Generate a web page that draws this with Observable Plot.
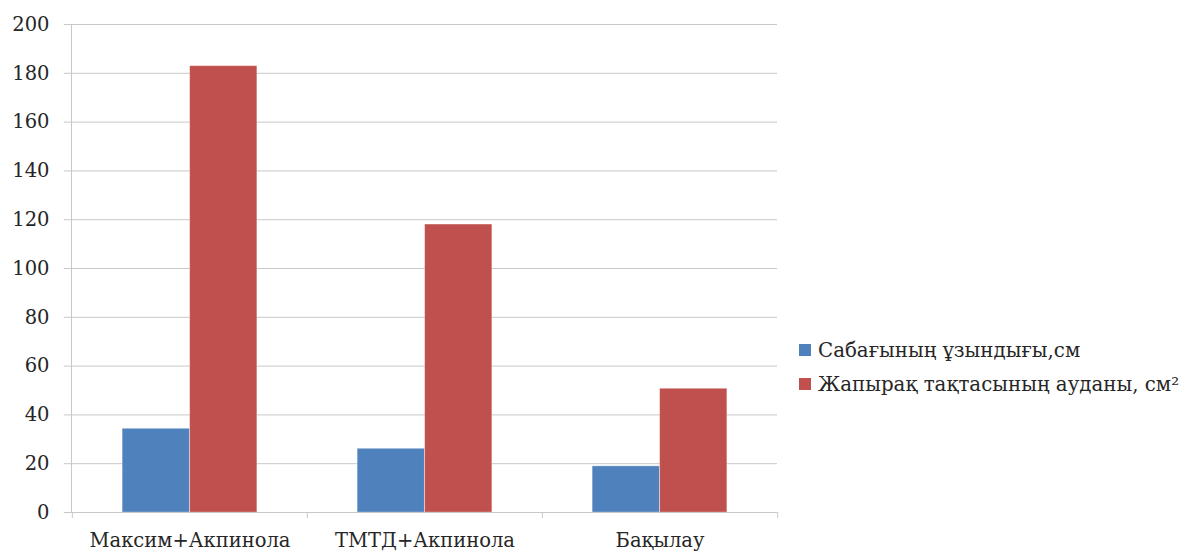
<!DOCTYPE html>
<html>
<head>
<meta charset="utf-8">
<script src="https://cdn.jsdelivr.net/npm/d3@7"></script>
<script src="https://cdn.jsdelivr.net/npm/@observablehq/plot@0.6"></script>
<style>
  html, body { margin: 0; padding: 0; background: #fff; }
  #wrap { position: relative; width: 1195px; height: 553px; overflow: hidden; }
  #legend { position: absolute; left: 799px; top: 333px; font-family: "DejaVu Serif", serif; font-size: 19.8px; color: #262626; }
  .row { display: flex; align-items: center; height: 34px; white-space: nowrap; }
  .sw { width: 12px; height: 12px; margin-right: 7px; flex: none; }
</style>
</head>
<body>
<div id="wrap"><div id="legend"></div></div>
<script>
const categories = ["Максим+Акпинола", "ТМТД+Акпинола", "Бақылау"];
const seriesNames = ["Сабағының ұзындығы,см", "Жапырақ тақтасының ауданы, см²"];
const seriesColors = ["#4F81BD", "#C0504D"];
const stemLength = [34.3, 26.1, 18.9];
const leafArea = [182.9, 118.0, 50.7];
const yTicks = [0, 20, 40, 60, 80, 100, 120, 140, 160, 180, 200];

const rows = categories.flatMap((c, i) => [
  {cat: c, series: seriesNames[0], value: stemLength[i]},
  {cat: c, series: seriesNames[1], value: leafArea[i]}
]);

const W = 790, H = 553, mL = 71, mR = 13, mT = 24, mB = 41;
const step = (W - mL - mR) / categories.length;
const group = step * 0.5737;
const bw = group / 2;
const outer = (step - group) / 2;
const grid = "#c8c8c8";
const font = "DejaVu Serif, serif";

const chart = Plot.plot({
  width: W, height: H,
  marginLeft: mL, marginRight: mR, marginTop: mT, marginBottom: mB,
  style: {fontFamily: font, fontSize: "19.5px", color: "#262626", background: "#fff", overflow: "visible"},
  x: {domain: categories, padding: 0, axis: null, label: null},
  y: {domain: [0, 200], axis: null, label: null},
  color: {domain: seriesNames, range: seriesColors},
  marks: [
    Plot.gridY(yTicks, {stroke: grid, strokeOpacity: 1}),
    Plot.barY(rows.filter(d => d.series === seriesNames[0]), {x: "cat", y: "value", fill: "series", insetLeft: outer, insetRight: outer + bw, stroke: "#fff", strokeOpacity: 0.35, strokeWidth: 0.8}),
    Plot.barY(rows.filter(d => d.series === seriesNames[1]), {x: "cat", y: "value", fill: "series", insetLeft: outer + bw, insetRight: outer, stroke: "#fff", strokeOpacity: 0.35, strokeWidth: 0.8}),
    Plot.frame({anchor: "left", stroke: grid, strokeOpacity: 1}),
    Plot.ruleY([0], {stroke: grid, strokeOpacity: 1}),
    Plot.ruleX(categories, {x: d => d, y1: 0, y2: 0, insetBottom: -6, dx: -step / 2, stroke: grid, strokeOpacity: 1}),
    Plot.ruleX(categories.slice(-1), {x: d => d, y1: 0, y2: 0, insetBottom: -6, dx: step / 2, stroke: grid, strokeOpacity: 1}),
    Plot.axisY(yTicks, {tickSize: 7, tickPadding: 15, stroke: grid, strokeOpacity: 1, fontSize: 19.5, fill: "#262626", label: null}),
    Plot.axisX({tickSize: 0, tickPadding: 21, fontSize: 19.5, fill: "#262626", label: null})
  ]
});
document.getElementById("wrap").prepend(chart);

const legend = document.getElementById("legend");
seriesNames.forEach((name, i) => {
  const r = document.createElement("div");
  r.className = "row";
  const s = document.createElement("span");
  s.className = "sw";
  s.style.background = seriesColors[i];
  const t = document.createElement("span");
  t.textContent = name;
  r.append(s, t);
  legend.append(r);
});
</script>
</body>
</html>
